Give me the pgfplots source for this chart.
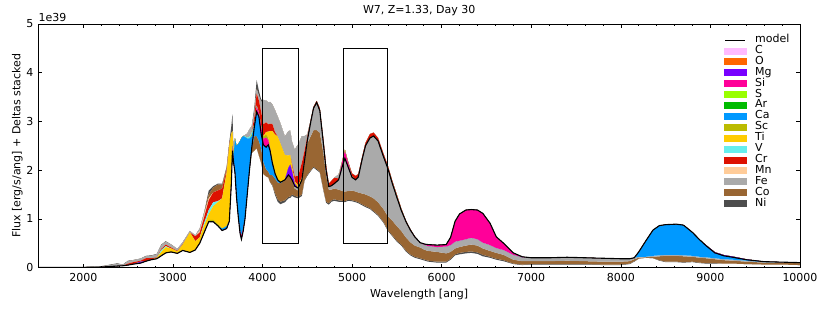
\documentclass[border=0pt]{standalone}
\usepackage{pgfplots}
\pgfplotsset{compat=1.18}
\usepackage{pgfplotstable}
\usepackage{fontspec}
\setmainfont{DejaVu Sans}
\setsansfont{DejaVu Sans}

\definecolor{cC}{HTML}{FFBBFF}
\definecolor{cO}{HTML}{FF6600}
\definecolor{cMg}{HTML}{7700FF}
\definecolor{cSi}{HTML}{FF0099}
\definecolor{cS}{HTML}{99FF00}
\definecolor{cAr}{HTML}{00BB00}
\definecolor{cCa}{HTML}{0099FF}
\definecolor{cSc}{HTML}{BBBB00}
\definecolor{cTi}{HTML}{FFCC00}
\definecolor{cV}{HTML}{66EEEE}
\definecolor{cCr}{HTML}{DD1100}
\definecolor{cMn}{HTML}{FFCC99}
\definecolor{cFe}{HTML}{AAAAAA}
\definecolor{cCo}{HTML}{996633}
\definecolor{cNi}{HTML}{4D4D4D}

% x, model flux M, negative deltas (stacked downward from M), positive deltas (stacked upward from M)
\pgfplotstableread{
x     M      Sim   Cam   Fem   Com   Nim    Mgp   Sip   Sp    Cap   Scp   Tip   Vp    Crp   Mnp   Fep   Cop   Nip
1500  0      0     0     0     0     0      0     0     0     0     0     0     0     0     0     0     0     0
1800  0.001  0     0     0     0     0      0     0     0     0     0     0     0     0     0     0.003 0     0
2000  0.003  0     0     0     0     0      0     0     0     0     0     0     0     0     0     0.006 0     0
2100  0.006  0     0     0     0     0      0     0     0     0     0     0     0     0     0     0.008 0     0.003
2200  0.01   0     0     0     0     0      0     0     0     0     0     0     0     0     0     0.012 0     0.005
2300  0.02   0     0     0     0     0      0     0     0     0     0     0     0     0     0     0.03  0     0.01
2380  0.03   0     0     0     0     0      0     0     0     0     0     0     0     0     0     0.045 0     0.012
2440  0.035  0     0     0     0     0      0     0     0     0     0     0     0     0     0     0.02  0     0.005
2500  0.05   0     0     0     0     0      0     0     0     0     0     0     0     0.03  0     0.05  0     0.01
2560  0.07   0     0     0     0     0      0     0     0     0     0     0     0     0.04  0     0.04  0     0.005
2640  0.09   0     0     0     0     0      0.03  0     0     0     0     0     0     0.02  0     0.04  0     0.005
2700  0.13   0     0     0     0     0      0     0     0     0     0     0     0     0.06  0     0.04  0     0.01
2760  0.16   0     0     0     0     0      0     0     0     0     0     0     0     0.03  0     0.05  0     0.01
2820  0.18   0     0     0     0     0      0     0     0     0     0     0.02  0     0.01  0     0.06  0     0.01
2870  0.24   0     0     0     0     0      0     0     0     0     0     0.08  0.04  0.02  0     0.08  0     0.01
2920  0.30   0     0     0     0     0      0     0     0     0     0     0.12  0.02  0.03  0     0.06  0     0.01
2980  0.32   0     0     0     0     0      0     0     0     0     0     0.07  0     0.02  0     0.06  0     0.005
3050  0.29   0     0     0     0     0      0     0     0     0     0     0.04  0     0.01  0     0.04  0     0
3110  0.35   0     0     0     0     0      0     0     0     0     0     0.12  0     0.01  0     0.04  0     0
3190  0.31   0     0     0     0     0      0     0     0     0     0     0.41  0     0     0     0.03  0     0
3250  0.36   0     0     0     0     0      0     0     0     0     0     0.18  0     0.1   0     0.02  0     0
3300  0.50   0     0     0     0     0      0     0     0     0     0     0.12  0     0.10  0.03  0.05  0     0
3350  0.72   0     0     0     0     0      0     0     0     0     0.03  0.12  0.05  0.12  0.04  0.04  0.02  0
3400  0.94   0     0     0     0     0      0     0     0     0     0.04  0.12  0.08  0.2   0.04  0     0.08  0.08
3450  0.94   0     0     0     0     0      0     0     0     0     0.04  0.28  0.08  0.2   0     0     0.1   0.03
3500  0.86   0     0     0     0     0      0     0     0     0     0.03  0.45  0.02  0.22  0     0     0.12  0.02
3550  0.76   0     0     0     0     0      0     0     0     0.04  0     0.62  0     0.2   0     0     0.08  0.02
3600  0.80   0     0     0     0     0      0     0     0     0.05  0     1.1   0     0.05  0     0     0.05  0.02
3630  0.95   0     0     0     0     0      0     0     0     0     0     1.55  0     0.03  0     0     0     0.05
3652  1.70   0     0     0     0     0      0     0.1   0     0     0     0.95  0     0     0     0     0     0.15
3665  2.40   0     0     0     0     0      0     0.1   0     0     0     0.3   0     0     0     0     0     0.35
3678  2.15   0     0     0     0     0      0     0.05  0     0.1   0     0.05  0     0     0     0     0     0
3693  1.95   0     0     0     0     0      0     0     0     0.7   0     0     0     0     0     0     0     0
3710  1.45   0     0     0     0     0      0     0     0     1.05  0     0     0     0     0     0     0     0
3730  1.04   0     0     0     0     0      0     0     0     1.5   0     0     0     0     0     0     0     0
3750  0.70   0     0     0     0     0      0     0.05  0     1.85  0     0     0     0     0     0     0     0
3765  0.58   0     0     0     0     0      0     0.08  0     2.0   0     0     0     0     0     0     0     0
3785  0.75   0     0     0     0     0      0     0.05  0     1.9   0     0     0     0     0     0     0     0
3805  1.00   0     0     0     0     0      0     0     0     1.68  0     0     0.02  0     0     0.02  0     0
3830  1.50   0     0     0     0     0      0     0     0     1.15  0     0     0.02  0     0     0.08  0     0
3855  2.00   0     0     0     0     0      0     0     0     0.65  0     0     0.04  0     0     0.15  0     0
3880  2.45   0     0     0     -0.1  0      0     0     0     0.25  0.03  0     0.05  0     0     0.12  0     0
3910  2.90   0     -0.2  0     -0.3  0      0     0     0     0.05  0     0     0     0.15  0     0.1   0     0.1
3935  3.20   0     -0.5  0     -0.25 0      0     0.1   0     0     0     0     0.03  0.24  0     0.1   0     0.18
3960  3.10   0     -0.5  0     -0.3  0      0     0.08  0     0     0     0     0     0.25  0     0.1   0     0.1
3985  2.75   0     -0.3  0     -0.3  0      0     0.15  0     0     0     0     0     0.3   0     0.2   0     0.05
4010  2.52   0     -0.35 0     -0.25 0      0     0.12  0     0     0.05  0     0     0.25  0     0.5   0     0
4040  2.47   0     -0.45 0     -0.15 0      0     0.2   0     0     0.06  0.05  0     0.2   0     0.45  0     0
4065  2.52   0     -0.55 0     -0.12 0      0     0.1   0     0     0.05  0.12  0     0.15  0     0.45  0     0
4085  2.40   0     -0.5  0     -0.15 0      0     0.05  0     0     0     0.35  0     0.15  0     0.45  0     0
4110  2.15   0     -0.25 0     -0.2  -0.02  0     0     0     0     0     0.65  0     0.15  0     0.4   0     0
4140  1.93   0     -0.1  0     -0.3  -0.04  0     0     0     0     0     0.8   0     0.05  0     0.45  0     0
4170  1.80   0     -0.05 0     -0.35 -0.05  0     0     0     0     0     0.89  0     0     0     0.41  0     0
4200  1.75   0     -0.02 0     -0.38 -0.05  0     0     0     0     0     0.8   0     0     0     0.41  0     0
4250  1.80   0     0     0     -0.42 -0.04  0     0     0     0     0     0.51  0     0     0     0.38  0     0
4290  1.90   0     0     0     -0.45 -0.03  0.15  0     0     0     0     0.25  0     0     0     0.5   0     0
4310  1.86   0     0     0     -0.4  -0.03  0.25  0     0     0     0     0.2   0     0     0     0.5   0     0
4330  1.80   0     0     0     -0.3  -0.03  0.18  0     0     0     0     0.1   0     0.05  0     0.45  0     0
4360  1.67   0     0     -0.05 -0.15 -0.03  0.05  0     0     0     0     0.05  0     0.1   0     0.55  0     0
4400  1.63   0     0     -0.05 -0.13 -0.03  0     0     0     0     0     0.05  0     0.2   0     0.65  0     0
4440  1.80   0     0     0     -0.3  -0.03  0     0     0     0     0     0.05  0     0.3   0     0.55  0     0
4470  2.20   0     0     0     -0.4  -0.02  0     0     0     0     0     0     0     0.2   0     0.3   0     0
4500  2.60   0     0     -0.05 -0.65 -0.02  0     0     0     0     0     0     0     0.08  0     0.05  0     0
4540  3.00   0     0     -0.3  -0.7  -0.02  0     0     0     0     0     0     0     0.04  0     0     0     0
4570  3.27   0     0     -0.45 -0.75 -0.02  0     0     0     0     0     0     0     0.03  0     0     0     0
4605  3.39   0     0     -0.57 -0.8  -0.02  0     0     0     0     0     0     0     0.03  0     0     0     0
4640  3.22   0     0     -0.45 -0.8  -0.02  0     0     0     0     0     0     0     0.05  0     0     0     0
4680  2.55   0     0     -0.2  -0.75 -0.02  0     0     0     0     0     0     0     0.08  0     0     0     0
4710  2.00   0     0     -0.1  -0.55 -0.02  0     0     0     0     0     0     0     0.1   0     0     0     0
4740  1.66   0     0     -0.06 -0.28 -0.03  0     0     0     0     0     0     0     0.06  0     0     0     0
4770  1.68   0     0     -0.08 -0.22 -0.03  0     0     0     0     0     0     0     0.1   0     0     0     0
4800  1.72   0     0     -0.1  -0.22 -0.03  0     0     0     0     0     0     0     0.12  0     0     0     0
4850  1.80   0     0     -0.2  -0.22 -0.03  0     0     0     0     0     0     0     0.03  0     0.08  0     0
4890  2.07   0     0     -0.5  -0.2  -0.02  0     0.1   0     0     0     0     0     0.02  0     0     0     0
4920  2.24   0     0     -0.68 -0.2  -0.02  0     0.15  0     0     0     0.03  0     0     0     0     0     0
4955  2.07   0     0     -0.5  -0.18 -0.02  0     0.08  0     0     0     0     0     0.03  0     0     0     0
5000  1.85   0     0     -0.27 -0.2  -0.02  0     0.02  0     0     0     0     0     0.06  0     0     0     0
5040  1.80   0     0     -0.24 -0.2  -0.02  0     0     0     0     0     0     0     0.08  0     0     0     0
5070  1.86   0     0     -0.32 -0.2  -0.02  0     0     0     0     0     0     0     0.06  0     0     0     0
5110  2.20   0     0     -0.68 -0.22 -0.02  0     0     0     0     0     0     0     0.05  0     0     0     0
5150  2.50   0     0     -1.0  -0.24 -0.02  0     0     0     0     0     0     0     0.06  0     0     0     0
5200  2.66   0     0     -1.2  -0.24 -0.02  0     0     0     0     0     0     0     0.08  0     0     0     0
5240  2.70   0     0     -1.28 -0.26 -0.02  0     0     0     0     0     0     0     0.07  0     0     0     0
5290  2.60   0     0     -1.26 -0.26 -0.02  0     0     0     0     0     0     0     0.06  0     0     0     0
5350  2.28   0     0     -1.08 -0.26 -0.02  0     0     0     0     0     0     0     0.06  0     0     0     0
5400  2.03   0     0     -0.98 -0.28 -0.02  0     0     0.01  0     0     0     0     0.05  0     0     0     0
5450  1.72   0     0     -0.76 -0.3  -0.02  0     0     0.015 0     0     0     0     0.04  0     0     0     0
5500  1.44   0     0     -0.59 -0.3  -0.02  0     0     0.015 0     0     0     0     0.04  0     0     0     0
5550  1.17   0     0     -0.42 -0.28 -0.02  0     0     0.01  0     0     0     0     0.03  0     0     0     0
5600  0.95   0     0     -0.33 -0.27 -0.02  0     0     0     0     0     0     0     0.02  0     0     0     0
5650  0.77   0     0     -0.25 -0.25 -0.02  0     0     0     0     0     0     0     0.02  0     0     0     0
5700  0.63   0     0     -0.18 -0.23 -0.02  0     0     0     0     0     0     0     0.01  0     0     0     0
5760  0.51   0     0     -0.1  -0.22 -0.02  0     0     0     0     0     0     0     0     0     0     0     0
5813  0.48   -0.02 0     -0.1  -0.2  -0.02  0     0     0     0     0     0     0     0     0     0     0     0
5850  0.47   -0.03 0     -0.1  -0.2  -0.02  0     0     0     0     0     0     0     0     0     0     0     0
5950  0.46   -0.04 0     -0.1  -0.2  -0.02  0     0     0     0     0     0     0     0     0     0     0     0
6050  0.47   -0.04 0     -0.14 -0.17 -0.02  0     0     0     0     0     0     0     0     0     0     0     0
6100  0.62   -0.16 0     -0.14 -0.14 -0.02  0     0     0     0     0     0     0     0     0     0     0     0
6150  0.95   -0.42 0     -0.14 -0.12 -0.02  0     0     0     0     0     0     0     0     0     0     0     0
6200  1.10   -0.55 0     -0.13 -0.12 -0.03  0     0     0     0     0     0     0     0     0     0     0     0
6270  1.18   -0.6  0     -0.13 -0.13 -0.03  0     0     0     0     0     0     0     0     0     0     0     0
6330  1.19   -0.58 0     -0.14 -0.14 -0.03  0     0     0     0     0     0     0     0     0     0     0     0
6400  1.18   -0.6  0     -0.13 -0.14 -0.03  0     0     0     0     0     0     0     0     0     0     0     0
6460  1.11   -0.6  0     -0.12 -0.13 -0.03  0     0     0     0     0     0     0     0     0     0     0     0
6540  0.91   -0.45 0     -0.12 -0.12 -0.02  0     0     0     0     0     0     0     0     0     0     0     0
6610  0.63   -0.23 0     -0.1  -0.12 -0.02  0     0     0     0     0     0     0     0     0     0     0     0
6690  0.50   -0.14 0     -0.1  -0.11 -0.02  0     0     0     0     0     0     0     0     0     0     0     0
6800  0.30   -0.04 0     -0.1  -0.08 -0.01  0     0     0     0     0     0     0     0     0     0     0     0
6900  0.22   -0.01 0     -0.08 -0.07 -0.01  0     0     0     0     0     0     0     0     0     0     0     0
7000  0.20   0     0     -0.07 -0.06 -0.01  0     0     0     0     0     0     0     0     0     0     0     0
7200  0.20   0     0     -0.07 -0.06 -0.01  0     0     0     0     0     0     0     0     0     0     0     0
7400  0.21   0     0     -0.07 -0.07 -0.01  0     0     0     0     0     0     0     0     0     0     0     0
7600  0.20   0     0     -0.07 -0.06 -0.01  0     0     0     0     0     0     0     0     0     0     0     0
7800  0.19   0     0     -0.07 -0.06 -0.01  0     0     0     0     0     0     0     0     0     0     0     0
8000  0.18   0     0     -0.06 -0.06 -0.01  0     0     0     0     0     0     0     0     0     0     0     0
8100  0.18   0     0     -0.05 -0.05 -0.01  0     0     0     0     0     0     0     0     0     0     0     0
8150  0.20   0     0     -0.03 -0.04 -0.01  0     0     0     0     0     0     0     0     0     0     0     0
8200  0.32   0     -0.1  -0.02 -0.02 0      0     0     0     0     0     0     0     0     0     0     0     0
8280  0.55   0     -0.33 -0.01 -0.01 0      0     0     0     0     0     0     0     0     0     0     0     0
8360  0.77   0     -0.53 -0.02 -0.03 0      0     0     0     0     0     0     0     0     0     0     0     0
8430  0.86   0     -0.61 -0.02 -0.08 -0.01  0     0     0     0     0     0     0     0     0     0     0     0
8500  0.88   0     -0.62 -0.02 -0.12 -0.01  0     0     0     0     0     0     0     0     0     0     0     0
8620  0.89   0     -0.63 -0.02 -0.12 -0.01  0     0     0     0     0     0     0     0     0     0     0     0
8700  0.87   0     -0.62 -0.02 -0.12 -0.01  0     0     0     0     0     0     0     0     0     0     0     0
8800  0.72   0     -0.48 -0.02 -0.1  -0.01  0     0     0     0     0     0     0     0     0     0     0     0
8880  0.57   0     -0.35 -0.02 -0.1  -0.01  0     0     0     0     0     0     0     0     0     0     0     0
8950  0.45   0     -0.24 -0.02 -0.1  -0.01  0.01  0     0     0     0     0     0     0     0     0     0     0
9050  0.30   0     -0.11 -0.02 -0.08 -0.01  0.015 0     0     0     0     0     0     0     0     0     0     0
9150  0.24   0     -0.07 -0.02 -0.07 0      0.015 0     0     0     0     0     0     0     0     0     0     0
9250  0.21   0     -0.05 -0.02 -0.06 0      0.015 0     0     0     0     0     0     0     0     0     0     0
9400  0.16   0     -0.02 -0.02 -0.05 0      0.01  0     0     0     0     0     0     0     0     0     0     0
9600  0.12   0     -0.01 -0.01 -0.04 0      0     0     0     0     0     0     0     0     0     0     0     0
9800  0.11   0     0     -0.01 -0.04 0      0     0     0     0     0     0     0     0     0     0     0     0
10000 0.10   0     0     -0.01 -0.04 0      0     0     0     0     0     0     0     0     0     0     0     0
}\data

\pgfplotsset{
  base/.style={width=761.5bp, height=243.5bp, scale only axis,
    xmin=1500, xmax=10000, ymin=0, ymax=5, at={(0,0)}, anchor=south west},
  patch/.style={legend image code/.code={\fill[##1, draw=none] (0bp,-3.5bp) rectangle (23bp,3.5bp);}},
  modelleg/.style={legend image code/.code={\draw[##1] (1bp,0bp) -- (21bp,0bp);}},
}

\begin{document}
\begin{tikzpicture}
\useasboundingbox (-38.5bp,-44.5bp) rectangle (791.5bp,267.5bp);
% deltas stacked below the model
\begin{axis}[base, hide axis, stack plots=y]
\addplot[draw=none] table[x=x,y=M]{\data};
\addplot[draw=none,fill=cSi] table[x=x,y=Sim]{\data} \closedcycle;
\addplot[draw=none,fill=cCa] table[x=x,y=Cam]{\data} \closedcycle;
\addplot[draw=none,fill=cFe] table[x=x,y=Fem]{\data} \closedcycle;
\addplot[draw=none,fill=cCo] table[x=x,y=Com]{\data} \closedcycle;
\addplot[draw=none,fill=cNi] table[x=x,y=Nim]{\data} \closedcycle;
\end{axis}
% deltas stacked above the model
\begin{axis}[base, hide axis, stack plots=y]
\addplot[draw=none] table[x=x,y=M]{\data};
\addplot[draw=none,fill=cMg] table[x=x,y=Mgp]{\data} \closedcycle;
\addplot[draw=none,fill=cSi] table[x=x,y=Sip]{\data} \closedcycle;
\addplot[draw=none,fill=cS] table[x=x,y=Sp]{\data} \closedcycle;
\addplot[draw=none,fill=cCa] table[x=x,y=Cap]{\data} \closedcycle;
\addplot[draw=none,fill=cSc] table[x=x,y=Scp]{\data} \closedcycle;
\addplot[draw=none,fill=cTi] table[x=x,y=Tip]{\data} \closedcycle;
\addplot[draw=none,fill=cV] table[x=x,y=Vp]{\data} \closedcycle;
\addplot[draw=none,fill=cCr] table[x=x,y=Crp]{\data} \closedcycle;
\addplot[draw=none,fill=cMn] table[x=x,y=Mnp]{\data} \closedcycle;
\addplot[draw=none,fill=cFe] table[x=x,y=Fep]{\data} \closedcycle;
\addplot[draw=none,fill=cCo] table[x=x,y=Cop]{\data} \closedcycle;
\addplot[draw=none,fill=cNi] table[x=x,y=Nip]{\data} \closedcycle;
\end{axis}
% frame, model line, boxes, legend
\begin{axis}[base,
  /pgf/number format/assume math mode=true,
  /pgf/number format/1000 sep={},
  scaled x ticks=false, scaled y ticks=false,
  xtick={2000,3000,4000,5000,6000,7000,8000,9000,10000},
  ytick={0,1,2,3,4,5},
  minor x tick num=4,
  major tick length=4bp, minor tick length=2bp,
  tick style={black, line width=0.6bp},
  axis line style={line width=0.8bp},
  tick label style={font=\fontsize{11bp}{12bp}\selectfont},
  xticklabel style={anchor=north, yshift=-5.5bp, inner sep=0pt},
  yticklabel style={anchor=east, xshift=-5bp, inner sep=0pt},
  title={W7, Z=1.33, Day 30},
  title style={at={(axis description cs:0.5,1)}, anchor=base, yshift=4.5bp, inner sep=0pt, font=\fontsize{11bp}{12bp}\selectfont},
  xlabel={Wavelength [ang]},
  every axis x label/.style={at={(axis description cs:0.5,0)}, anchor=base, yshift=-30bp, inner sep=0pt, font=\fontsize{11bp}{12bp}\selectfont},
  ylabel={Flux [erg/s/ang] + Deltas stacked},
  every axis y label/.style={at={(axis description cs:0,0.5)}, xshift=-18bp, rotate=90, anchor=base, inner sep=0pt, font=\fontsize{11bp}{12bp}\selectfont},
  legend cell align=left,
  legend style={at={(axis description cs:0.9002,0.959)}, anchor=north west, draw=none, fill=none,
    inner sep=0pt, row sep=-1bp, font=\fontsize{11bp}{12bp}\selectfont,
    nodes={inner sep=0pt, text height=8.4bp, text depth=3.5bp},
    /tikz/every odd column/.append style={column sep=8bp}},
  extra description/.code={
    \node[anchor=base west, inner sep=0pt, font=\fontsize{11bp}{12bp}\selectfont] at (0,1) [yshift=2.5bp] {1e39};
  },
]
\addplot[black, line width=1.1bp, forget plot] table[x=x,y=M]{\data};
\addplot[black, line width=0.8bp, forget plot] coordinates {(4000,0.5) (4400,0.5) (4400,4.5) (4000,4.5) (4000,0.5)};
\addplot[black, line width=0.8bp, forget plot] coordinates {(4900,0.5) (5400,0.5) (5400,4.5) (4900,4.5) (4900,0.5)};
\addlegendimage{modelleg, black, line width=1.1bp}\addlegendentry{model}
\addlegendimage{patch, fill=cC}\addlegendentry{C}
\addlegendimage{patch, fill=cO}\addlegendentry{O}
\addlegendimage{patch, fill=cMg}\addlegendentry{Mg}
\addlegendimage{patch, fill=cSi}\addlegendentry{Si}
\addlegendimage{patch, fill=cS}\addlegendentry{S}
\addlegendimage{patch, fill=cAr}\addlegendentry{Ar}
\addlegendimage{patch, fill=cCa}\addlegendentry{Ca}
\addlegendimage{patch, fill=cSc}\addlegendentry{Sc}
\addlegendimage{patch, fill=cTi}\addlegendentry{Ti}
\addlegendimage{patch, fill=cV}\addlegendentry{V}
\addlegendimage{patch, fill=cCr}\addlegendentry{Cr}
\addlegendimage{patch, fill=cMn}\addlegendentry{Mn}
\addlegendimage{patch, fill=cFe}\addlegendentry{Fe}
\addlegendimage{patch, fill=cCo}\addlegendentry{Co}
\addlegendimage{patch, fill=cNi}\addlegendentry{Ni}
\end{axis}
\end{tikzpicture}
\end{document}
